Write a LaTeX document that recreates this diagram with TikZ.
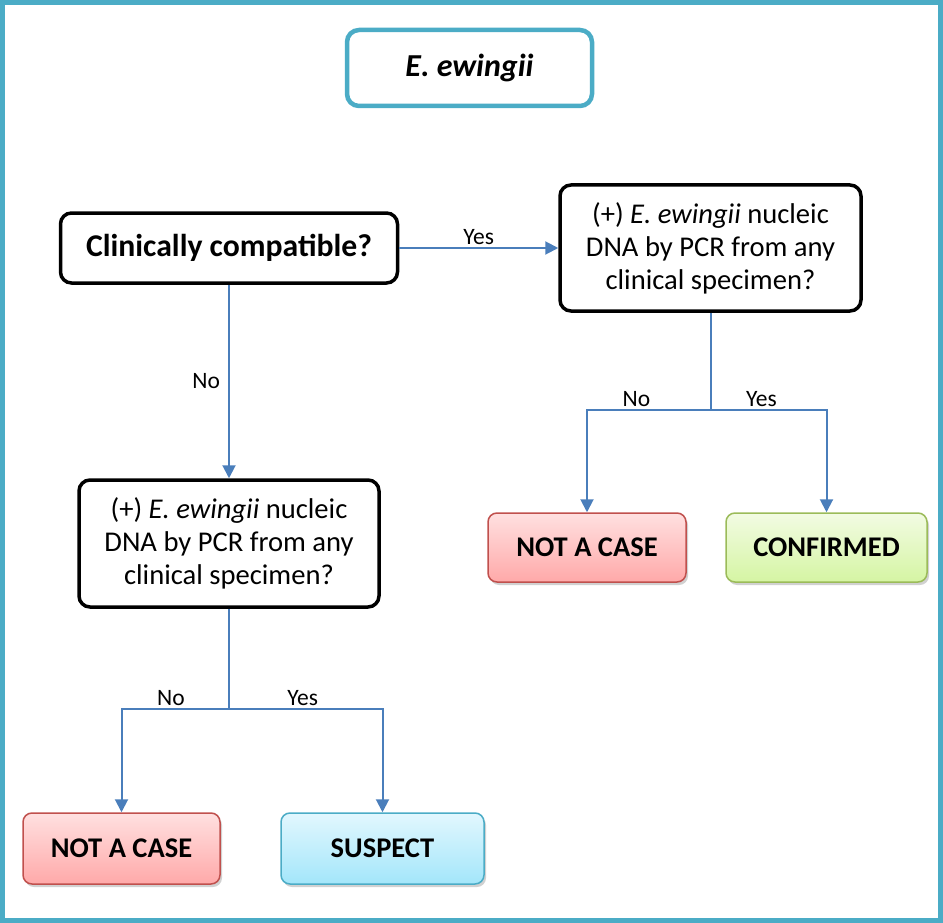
\documentclass[tikz,border=0pt]{standalone}
\usepackage{fontspec}
\setmainfont{Carlito}
\usetikzlibrary{arrows.meta,shadows}
\definecolor{frameteal}{HTML}{4BACC6}
\definecolor{arrblue}{HTML}{4A7EBB}
\definecolor{redtop}{HTML}{FFE0E0}
\definecolor{redbot}{HTML}{FFA9A9}
\definecolor{redline}{HTML}{C0504D}
\definecolor{greentop}{HTML}{F2FBE3}
\definecolor{greenbot}{HTML}{D5F5A3}
\definecolor{greenline}{HTML}{9BBB59}
\definecolor{bluetop}{HTML}{E2F7FE}
\definecolor{bluebot}{HTML}{A3E6FA}
\begin{document}
\begin{tikzpicture}[x=1pt,y=-1pt,
  question/.style={draw=black, line width=3.5pt, rounded corners=11pt, fill=white,
    align=center, inner sep=0pt, font=\fontsize{28.6}{33}\selectfont},
  outcome/.style={line width=1.5pt, rounded corners=9pt, inner sep=0pt,
    font=\fontsize{28.5}{32}\selectfont\bfseries,
    drop shadow={shadow xshift=2pt, shadow yshift=-3pt, opacity=0.3, fill=black!60}},
  arrline/.style={draw=arrblue, line width=2pt},
  arr/.style={arrline, -{Triangle[width=13pt,length=13pt]}},
  lbl/.style={font=\fontsize{23.5}{27}\selectfont, inner sep=2pt}]
\useasboundingbox (0,0) rectangle (943,923);
\draw[frameteal, line width=5pt] (2.5,2.5) rectangle (940.5,920.5);

\node[draw=frameteal, line width=4.5pt, rounded corners=12pt, fill=white,
  minimum width=245pt, minimum height=76pt, inner sep=0pt,
  font=\fontsize{32}{38}\selectfont\bfseries\itshape] (title) at (469.5,68) {E. ewingii};

\node[question, minimum width=337pt, minimum height=70pt,
  font=\fontsize{31.7}{36}\selectfont\bfseries] (cc) at (229,248) {Clinically compatible?};
\node[question, minimum width=301pt, minimum height=126pt] (rq) at (710.5,248)
  {(+) \textit{E. ewingii} nucleic\\DNA by PCR from any\\clinical specimen?};
\node[question, minimum width=300pt, minimum height=127pt] (lq) at (229,543.5)
  {(+) \textit{E. ewingii} nucleic\\DNA by PCR from any\\clinical specimen?};

\node[outcome, draw=redline, top color=redtop, bottom color=redbot,
  minimum width=198pt, minimum height=69pt] (rnac) at (587,547.5) {NOT A CASE};
\node[outcome, draw=greenline, top color=greentop, bottom color=greenbot,
  minimum width=201pt, minimum height=69pt] (conf) at (826.5,547.5) {CONFIRMED};
\node[outcome, draw=redline, top color=redtop, bottom color=redbot,
  minimum width=197pt, minimum height=71pt] (lnac) at (121.5,848.5) {NOT A CASE};
\node[outcome, draw=frameteal, top color=bluetop, bottom color=bluebot,
  minimum width=203pt, minimum height=71pt] (susp) at (382.5,848.5) {SUSPECT};

\draw[arr] (cc.east) -- node[lbl, above=0pt] {Yes} (rq.west);
\draw[arr] (cc.south) -- node[lbl, left=6pt] {No} (lq.north);

\coordinate (rj) at (rq.south |- 0,410);
\draw[arrline] (rq.south) -- (rj);
\draw[arr] (rj) -| node[lbl, above=0pt, pos=0.3] {No} (rnac.north);
\draw[arr] (rj) -| node[lbl, above=0pt, pos=0.22] {Yes} (conf.north);

\coordinate (lj) at (lq.south |- 0,709);
\draw[arrline] (lq.south) -- (lj);
\draw[arr] (lj) -| node[lbl, above=0pt, pos=0.27] {No} (lnac.north);
\draw[arr] (lj) -| node[lbl, above=0pt, pos=0.24] {Yes} (susp.north);
\end{tikzpicture}
\end{document}
